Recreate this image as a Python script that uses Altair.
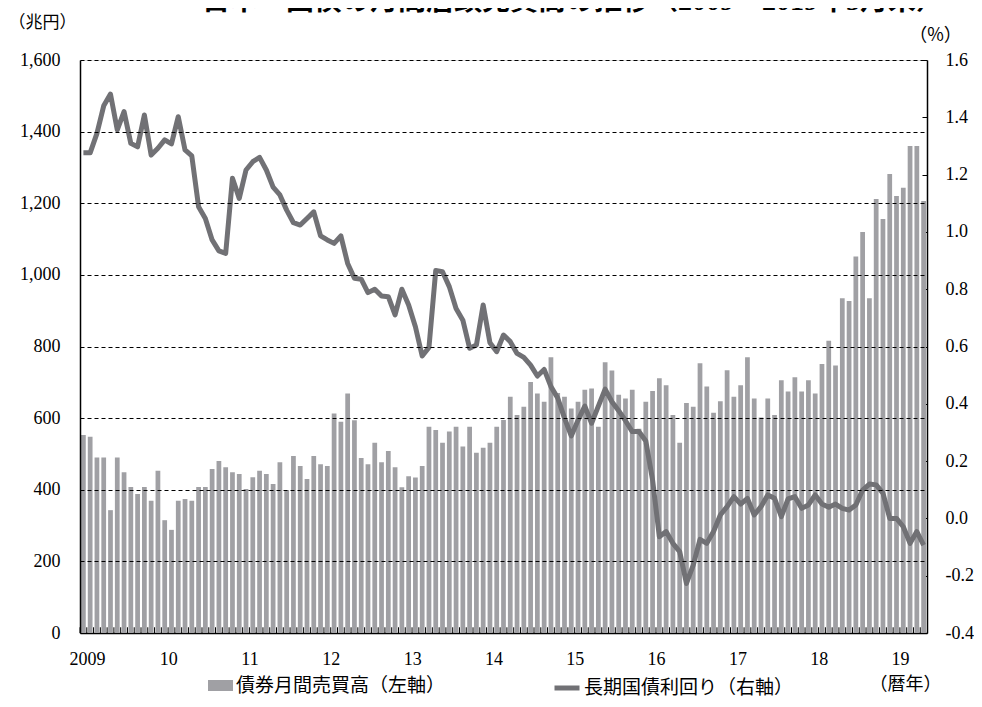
import altair as alt
import pandas as pd

TITLE = "日本　国債の月間店頭売買高の推移（2009～2019年5月末）"
S1 = "債券月間売買高（左軸）"
S2 = "長期国債利回り（右軸）"

months = [f"{y}-{m:02d}" for y in range(2009, 2020) for m in range(1, 13)][:125]

# 債券月間売買高（兆円）
volume = [
    553, 548, 490, 490, 343, 490, 449, 408, 388, 408, 369, 453,
    315, 288, 369, 374, 369, 408, 408, 458, 480, 463, 449, 444,
    402, 435, 453, 444, 416, 477, 399, 494, 466, 430, 494, 471,
    466, 613, 590, 669, 594, 489, 471, 531, 477, 508, 463, 407,
    438, 434, 466, 576, 567, 531, 563, 576, 521, 576, 503, 517,
    531, 576, 595, 660, 609, 632, 701, 669, 646, 770, 670, 660,
    627, 646, 679, 683, 576, 756, 733, 665, 655, 679, 570, 646,
    676, 711, 692, 609, 531, 642, 632, 753, 688, 615, 647, 734,
    660, 692, 770, 655, 602, 655, 609, 706, 674, 714, 674, 706,
    669, 751, 816, 747, 935, 927, 1051, 1120, 935, 1212, 1156, 1282,
    1220, 1243, 1360, 1360, 1206,
]

# 長期国債利回り（%）
yields = [
    1.276, 1.276, 1.344, 1.44, 1.481, 1.356, 1.42, 1.309, 1.297, 1.408, 1.268, 1.292,
    1.321, 1.307, 1.402, 1.286, 1.265, 1.088, 1.047, 0.972, 0.934, 0.925, 1.187, 1.117,
    1.216, 1.245, 1.26, 1.216, 1.156, 1.129, 1.076, 1.032, 1.024, 1.047, 1.07, 0.986,
    0.972, 0.96, 0.986, 0.89, 0.838, 0.835, 0.788, 0.8, 0.776, 0.774, 0.71, 0.8,
    0.745, 0.669, 0.567, 0.597, 0.865, 0.861, 0.809, 0.733, 0.692, 0.594, 0.605, 0.745,
    0.613, 0.582, 0.64, 0.617, 0.576, 0.562, 0.535, 0.497, 0.52, 0.46, 0.42, 0.35,
    0.288, 0.343, 0.392, 0.332, 0.392, 0.451, 0.407, 0.376, 0.341, 0.303, 0.303, 0.27,
    0.134, -0.064, -0.046, -0.087, -0.116, -0.227, -0.163, -0.073, -0.087, -0.046, 0.012, 0.041,
    0.076, 0.05, 0.07, 0.012, 0.041, 0.082, 0.07, 0.006, 0.068, 0.076, 0.035, 0.047,
    0.082, 0.05, 0.039, 0.05, 0.035, 0.029, 0.047, 0.099, 0.12, 0.117, 0.088, 0.0,
    0.0, -0.029, -0.087, -0.046, -0.093,
]

left_ticks = [0, 200, 400, 600, 800, 1000, 1200, 1400, 1600]
right_ticks = [-0.4, -0.2, 0.0, 0.2, 0.4, 0.6, 0.8, 1.0, 1.2, 1.4, 1.6]

BAR = "#a0a0a4"
LINE = "#717175"
SERIF = "Liberation Serif"
JP = "Noto Sans CJK JP"
W, H = 847, 573

df = pd.DataFrame({"m": months, "vol": volume, "yld": yields, "s1": S1, "s2": S2})

xscale = alt.Scale(paddingInner=0.3, paddingOuter=0.15)
xaxis = alt.Axis(
    title="（暦年）", titleFont=JP, titleFontSize=18, titleFontWeight="normal",
    titleX=825, titleY=51, titleAngle=0, titleAlign="center", titleBaseline="middle",
    labelExpr="slice(datum.value,5)=='01' ? (slice(datum.value,0,4)=='2009' ? '2009' : slice(datum.value,2,4)) : ''",
    labelAngle=0, labelFont=SERIF, labelFontSize=18, labelPadding=17, labelOffset=4,
    labelOverlap=False, ticks=False, domain=True, domainColor="black", domainWidth=1.5,
    labelColor="black",
)

X = alt.X("m:O", scale=xscale, axis=xaxis, sort=None)

bars = alt.Chart(df).mark_bar().encode(
    x=X,
    y=alt.Y("vol:Q", scale=alt.Scale(domain=[0, 1600], nice=False),
            axis=alt.Axis(orient="left", values=left_ticks, format=",d", grid=True,
                          gridDash=[4, 3], gridColor="black", gridWidth=1.2,
                          ticks=False, domainColor="black", domainWidth=1.5,
                          labelFont=SERIF, labelFontSize=18, labelPadding=20,
                          labelColor="black", zindex=1,
                          title="（兆円）", titleFont=JP, titleFontSize=17,
                          titleFontWeight="normal", titleAngle=0, titleX=-38,
                          titleY=-38, titleAlign="center", titleBaseline="middle")),
    color=alt.Color("s1:N", scale=alt.Scale(domain=[S1], range=[BAR]),
                    legend=alt.Legend(title=None, orient="none", legendX=128, legendY=613,
                                      symbolType="M-1,-0.44H1V0.44H-1Z", symbolSize=625,
                                      symbolStrokeWidth=0, symbolOpacity=1,
                                      labelFont=JP, labelFontSize=19, labelOffset=3,
                                      labelLimit=0, labelColor="black")),
)

bottom_ticks = alt.Chart(df).mark_rule(color="black", strokeWidth=1, xOffset=-1).encode(
    x=alt.X("m:O", scale=xscale, axis=xaxis, sort=None, bandPosition=0),
    y=alt.Y(datum=0, scale=alt.Scale(domain=[0, 1600], nice=False), axis=None),
    y2=alt.Y2(datum=16),
)

line = alt.Chart(df).mark_line(strokeWidth=5, strokeJoin="round").encode(
    x=X,
    y=alt.Y("yld:Q", scale=alt.Scale(domain=[-0.4, 1.6], nice=False, zero=False),
            axis=alt.Axis(orient="right", values=right_ticks,
                          labelExpr="replace(format(datum.value,'.1f'),'\u2212','-')",
                          grid=False, ticks=False, domainColor="black", domainWidth=1.5,
                          labelFont=SERIF, labelFontSize=18, labelPadding=18,
                          labelColor="black",
                          title="（%）", titleFont=JP, titleFontSize=18,
                          titleFontWeight="normal", titleAngle=0, titleX=8,
                          titleY=-25, titleAlign="center", titleBaseline="middle")),
    stroke=alt.Stroke("s2:N", scale=alt.Scale(domain=[S2], range=[LINE]),
                      legend=alt.Legend(title=None, orient="none", legendX=472, legendY=613,
                                        symbolType="stroke", symbolSize=625,
                                        symbolStrokeWidth=5, labelFont=JP,
                                        labelFontSize=19, labelOffset=2,
                                        labelLimit=0, labelColor="black")),
)

right_inner = alt.Chart(df).mark_point(opacity=0).encode(
    x=X,
    y=alt.Y("yld:Q", scale=alt.Scale(domain=[-0.4, 1.6], nice=False, zero=False),
            axis=alt.Axis(orient="left", offset=-W, values=right_ticks, labels=False,
                          ticks=True, tickSize=5, tickColor="black", tickWidth=1,
                          domain=False, grid=False, title=None)),
)

title_layer = alt.Chart(pd.DataFrame({"t": [TITLE]})).mark_text(
    font=SERIF + ", " + JP, fontSize=28, fontWeight="bold", align="center",
    baseline="middle", color="black",
).encode(text="t:N", x=alt.value(493), y=alt.value(-58))

chart = (
    alt.layer(bars, bottom_ticks, line, right_inner, title_layer)
    .resolve_scale(y="independent")
    .properties(width=W, height=H,
                autosize=alt.AutoSizeParams(type="none"),
                padding={"left": 72, "top": 52, "right": 47, "bottom": 66})
    .configure_view(stroke="black", strokeWidth=1.5)
    .configure(background="white")
)

chart.save("out.html", embed_options={"renderer": "svg", "actions": False})
